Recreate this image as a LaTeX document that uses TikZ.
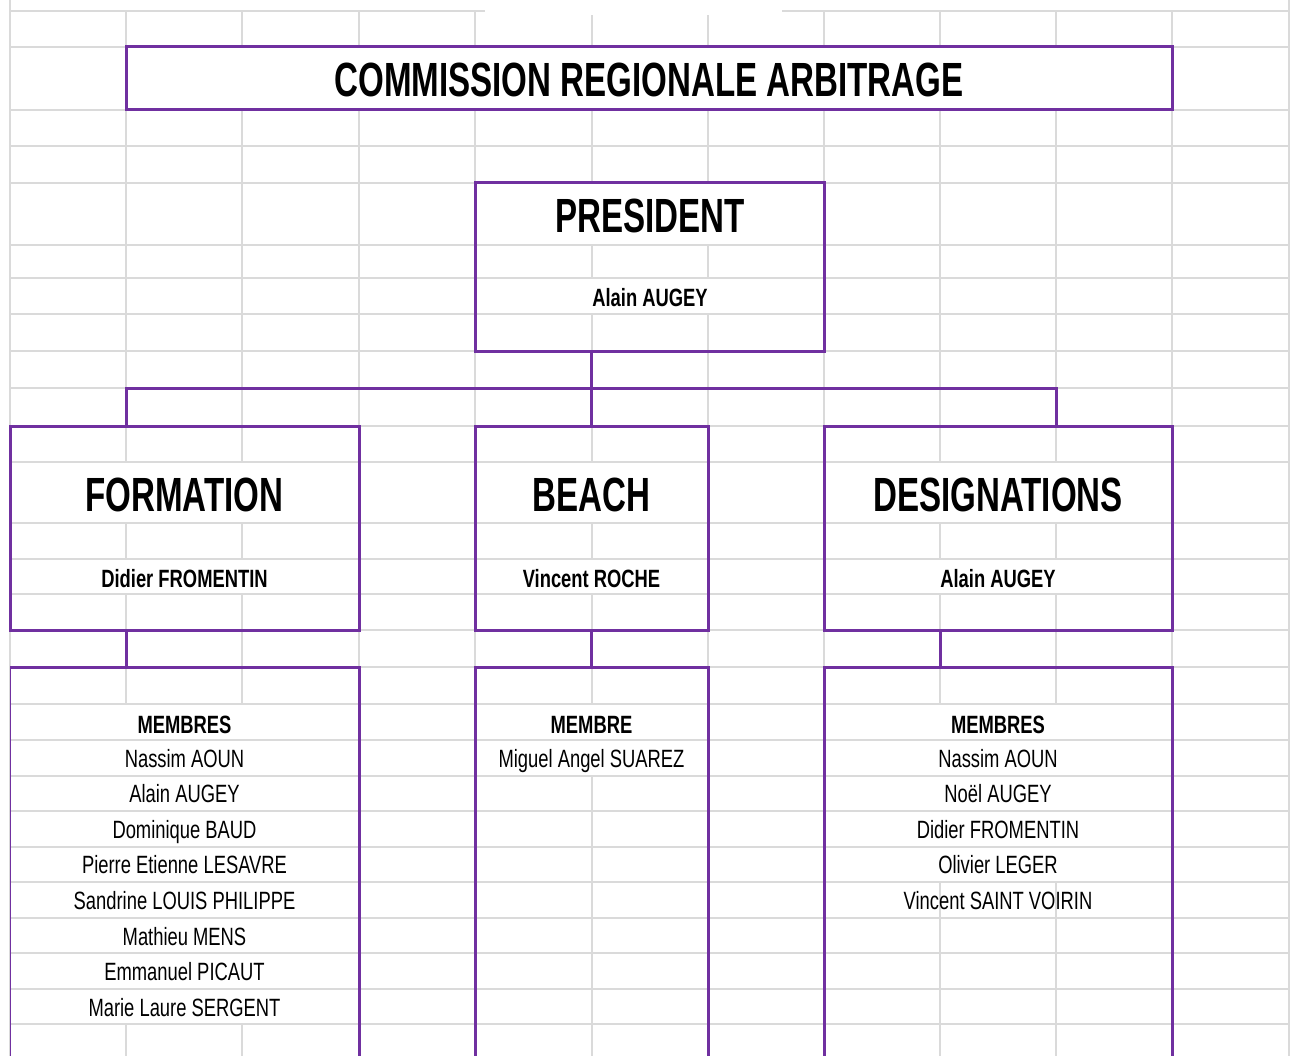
\documentclass[tikz,border=0pt]{standalone}
\usepackage{fontspec}
\setmainfont[FakeStretch=0.69]{Liberation Sans}
\newfontfamily\namefont[FakeStretch=0.735]{Liberation Sans}
\definecolor{crapurple}{HTML}{7030A0}
\definecolor{cellgray}{HTML}{DADADA}
\begin{document}
\begin{tikzpicture}[x=1pt,y=-1pt,
	cell/.style={cellgray,line width=2pt},
	panel/.style={draw=crapurple,line width=3pt,inner sep=0pt,outer sep=0pt,anchor=north west},
	link/.style={crapurple,line width=3pt},
	big/.style={anchor=base,font=\fontsize{48}{48}\selectfont\bfseries},
	small/.style={anchor=base,font=\namefont\fontsize{25}{25}\selectfont},
	smallb/.style={anchor=base,font=\namefont\fontsize{25}{25}\selectfont\bfseries}]
	\useasboundingbox (0,0) rectangle (1295,1056);
	\clip (0,0) rectangle (1295,1056);
	% sheet grid
	\foreach \x in {126,242,359,475,592,708,824,940,1056,1172}
		\draw[cell] (\x,11) -- (\x,1056);
	\draw[cell] (10,0) -- (10,1056) (1289,0) -- (1289,1056);
	\fill[white] (485,0) rectangle (782,15);
	% merged cells
	\fill[white] (126,47) rectangle (1172,110);
	\foreach \ya/\yb in {183/245,278/314}
		\fill[white] (475,\ya) rectangle (824,\yb);
	\foreach \xa/\xb in {10/359,475/708,824/1172}
		\foreach \ya/\yb in {462/523,559/594}
			\fill[white] (\xa,\ya) rectangle (\xb,\yb);
	\fill[white] (10,704) rectangle (359,1024);
	\fill[white] (475,704) rectangle (708,776);
	\fill[white] (824,704) rectangle (1172,882);
	\foreach \y in {47,110,146,183,245,278,314,351,388,426,462,523,559,594,630,667,704,740,776,811,847,882,918,953,989,1024}
		\draw[cell] (10,\y) -- (1289,\y);
	\draw[cell] (10,11) -- (485,11) (782,11) -- (1289,11);
	% boxes
	\node[panel,minimum width=1046pt,minimum height=63pt] (title) at (126,47) {};
	\node[panel,minimum width=349pt,minimum height=168pt] (pres) at (475,183) {};
	\node[panel,minimum width=349pt,minimum height=204pt] (form) at (10,426) {};
	\node[panel,minimum width=233pt,minimum height=204pt] (beach) at (475,426) {};
	\node[panel,minimum width=348pt,minimum height=204pt] (desig) at (824,426) {};
	\node[panel,draw=none,minimum width=349pt,minimum height=420pt] (formM) at (10,667) {};
	\node[panel,minimum width=233pt,minimum height=420pt] (beachM) at (475,667) {};
	\node[panel,minimum width=348pt,minimum height=420pt] (desigM) at (824,667) {};
	\draw[crapurple,line width=1pt] (formM.south west) -- (formM.north west);
	\draw[link] (formM.north west) -- (formM.north east) -- (formM.south east);
	% connectors
	\coordinate (busL) at (126,388);
	\coordinate (busR) at (1056,388);
	\coordinate (dropR) at (940,648);
	\draw[link] (beach.north |- pres.south) -- (beach.north);
	\draw[link] (busL |- form.north) -- (busL) -- (busR) -- (busR |- desig.north);
	\draw[link] (busL |- form.south) -- (busL |- formM.north);
	\draw[link] (beach.south) -- (beachM.north);
	\draw[link] (dropR |- desig.south) -- (dropR |- desigM.north);
	% texts
	\node[big] (titleT) at (649,97) {COMMISSION REGIONALE ARBITRAGE};
	\node[big] (presT) at (650,233) {PRESIDENT};
	\node[smallb] (presN) at (650,307) {Alain AUGEY};
	\node[big] (formT) at (184.5,511) {FORMATION};
	\node[smallb] (formN) at (184.5,587) {Didier FROMENTIN};
	\node[big] (beachT) at (591.5,511) {BEACH};
	\node[smallb] (beachN) at (591.5,587) {Vincent ROCHE};
	\node[big] (desigT) at (998,511) {DESIGNATIONS};
	\node[smallb] (desigN) at (998,587) {Alain AUGEY};
	% members
	\node[smallb] (formH) at (184.5,733) {MEMBRES};
	\foreach \who [count=\i] in {Nassim AOUN,Alain AUGEY,Dominique BAUD,Pierre Etienne LESAVRE,Sandrine LOUIS PHILIPPE,Mathieu MENS,Emmanuel PICAUT,Marie Laure SERGENT}
		\node[small] (formM\i) at (184.5,{767+35.6*(\i-1)}) {\who};
	\node[smallb] (beachH) at (591.5,733) {MEMBRE};
	\node[small] (beachM1) at (591.5,767) {Miguel Angel SUAREZ};
	\node[smallb] (desigH) at (998,733) {MEMBRES};
	\foreach \who [count=\i] in {Nassim AOUN,Noël AUGEY,Didier FROMENTIN,Olivier LEGER,Vincent SAINT VOIRIN}
		\node[small] (desigM\i) at (998,{767+35.6*(\i-1)}) {\who};
\end{tikzpicture}
\end{document}
